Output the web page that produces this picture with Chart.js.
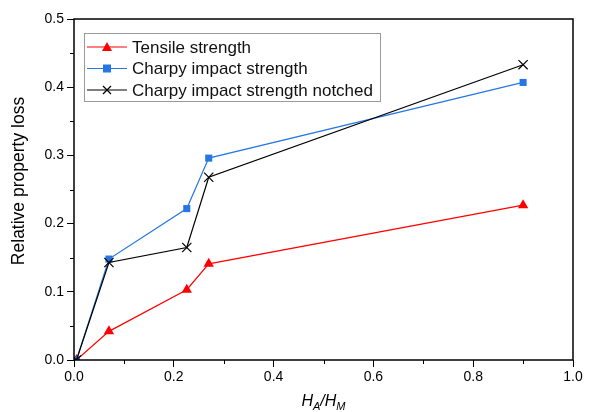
<!DOCTYPE html>
<html><head><meta charset="utf-8">
<script src="https://cdn.jsdelivr.net/npm/chart.js@4/dist/chart.umd.min.js"></script>
<style>html,body{margin:0;padding:0;background:#fff}#wrap{width:590px;height:412px}</style>
</head><body><div id="wrap"><canvas id="c" width="590" height="412"></canvas></div>
<script>
const xValues = [0.005, 0.07, 0.226, 0.27, 0.9];
const tensile = [0, 0.042, 0.103, 0.141, 0.227];
const charpy = [0, 0.148, 0.222, 0.296, 0.407];
const charpyNotched = [0, 0.143, 0.165, 0.268, 0.433];
const seriesNames = ['Tensile strength', 'Charpy impact strength', 'Charpy impact strength notched'];
const xTicks = [0, 0.2, 0.4, 0.6, 0.8, 1.0];
const yTicks = [0, 0.1, 0.2, 0.3, 0.4, 0.5];

const RED = '#ff0000', BLUE = '#2577e3', BLACK = '#000000';
const FONT = '"Liberation Sans", Arial, sans-serif';
const toPts = ys => ys.map((y, i) => ({x: xValues[i], y}));

const extras = {
  id: 'extras',
  afterDraw(chart) {
    const {ctx, chartArea: a, scales: {x, y}} = chart;
    ctx.save();
    // frame
    ctx.strokeStyle = '#000'; ctx.lineWidth = 1.5;
    ctx.strokeRect(a.left, a.top, a.right - a.left, a.bottom - a.top);
    // minor ticks
    ctx.lineWidth = 1;
    ctx.beginPath();
    for (let v = 0.1; v < 1; v += 0.2) { const px = Math.round(x.getPixelForValue(v)) + 0.5; ctx.moveTo(px, a.bottom); ctx.lineTo(px, a.bottom + 4); }
    for (let v = 0.05; v < 0.5; v += 0.1) { const py = Math.round(y.getPixelForValue(v)) + 0.5; ctx.moveTo(a.left, py); ctx.lineTo(a.left - 4, py); }
    ctx.stroke();
    // y title
    ctx.fillStyle = '#000';
    ctx.font = '17.5px ' + FONT;
    ctx.save(); ctx.translate(19, 181); ctx.rotate(-Math.PI / 2);
    ctx.textAlign = 'center'; ctx.textBaseline = 'middle';
    ctx.fillText('Relative property loss', 0, 0); ctx.restore();
    // x title H_A/H_M
    const big = 'italic 16px ' + FONT;
    const small = 'italic 11px ' + FONT;
    const parts = [['H', big, 0], ['A', small, 4], ['/H', big, 0], ['M', small, 4]];
    let total = 0;
    parts.forEach(p => { ctx.font = p[1]; total += ctx.measureText(p[0]).width; });
    let cx = (a.left + a.right) / 2 - total / 2;
    ctx.textAlign = 'left'; ctx.textBaseline = 'alphabetic';
    parts.forEach(p => { ctx.font = p[1]; ctx.fillText(p[0], cx, 406 + p[2]); cx += ctx.measureText(p[0]).width; });
    // legend
    const lx = 84, ly = 33, lw = 296, lh = 68;
    ctx.fillStyle = '#fff'; ctx.fillRect(lx, ly, lw, lh);
    ctx.strokeStyle = '#9a9a9a'; ctx.lineWidth = 1;
    ctx.strokeRect(lx + 0.5, ly + 0.5, lw, lh);
    const rows = [{c: RED, m: 'tri'}, {c: BLUE, m: 'sq'}, {c: BLACK, m: 'x'}];
    ctx.font = '17px ' + FONT;
    ctx.textBaseline = 'middle';
    rows.forEach((r, i) => {
      const yy = ly + 14 + i * 21.5;
      ctx.strokeStyle = r.c; ctx.lineWidth = 1.2;
      ctx.beginPath(); ctx.moveTo(87, yy); ctx.lineTo(127, yy); ctx.stroke();
      ctx.fillStyle = r.c;
      const mx = 107;
      if (r.m === 'tri') { ctx.beginPath(); ctx.moveTo(mx, yy - 5); ctx.lineTo(mx + 5, yy + 4); ctx.lineTo(mx - 5, yy + 4); ctx.closePath(); ctx.fill(); }
      else if (r.m === 'sq') { ctx.fillRect(mx - 4, yy - 4, 8, 8); }
      else { ctx.beginPath(); ctx.moveTo(mx - 4, yy - 4); ctx.lineTo(mx + 4, yy + 4); ctx.moveTo(mx + 4, yy - 4); ctx.lineTo(mx - 4, yy + 4); ctx.stroke(); }
      ctx.fillStyle = '#111';
      ctx.fillText(seriesNames[i], 132, yy + 1);
    });
    ctx.restore();
  }
};

new Chart(document.getElementById('c'), {
  type: 'scatter',
  data: {
    datasets: [
      {label: seriesNames[0], data: toPts(tensile), showLine: true, borderColor: RED, backgroundColor: RED, borderWidth: 1.2, pointStyle: 'triangle', pointRadius: 6, pointBorderWidth: 0, order: 3},
      {label: seriesNames[1], data: toPts(charpy), showLine: true, borderColor: BLUE, backgroundColor: BLUE, borderWidth: 1.2, pointStyle: 'rect', pointRadius: 5, pointBorderWidth: 0, order: 2},
      {label: seriesNames[2], data: toPts(charpyNotched), showLine: true, borderColor: BLACK, backgroundColor: BLACK, borderWidth: 1.2, pointStyle: 'crossRot', pointRadius: 6.5, pointBorderWidth: 1.2, order: 1}
    ]
  },
  options: {
    responsive: false, animation: false, devicePixelRatio: 1,
    layout: {padding: {top: 19, right: 17, left: 0, bottom: 0}},
    plugins: {legend: {display: false}, tooltip: {enabled: false}},
    scales: {
      x: {
        type: 'linear', min: 0, max: 1,
        afterBuildTicks: s => { s.ticks = xTicks.map(v => ({value: v})); },
        afterFit: s => { s.height = 52; },
        ticks: {color: '#000', font: {size: 14, family: FONT}, padding: 2, maxRotation: 0, callback: v => v.toFixed(1)},
        grid: {display: true, drawOnChartArea: false, tickLength: 7, tickColor: '#000', tickWidth: 1},
        border: {display: false}
      },
      y: {
        type: 'linear', min: 0, max: 0.5,
        afterBuildTicks: s => { s.ticks = yTicks.map(v => ({value: v})); },
        afterFit: s => { s.width = 74; },
        ticks: {color: '#000', font: {size: 14, family: FONT}, padding: 3, callback: v => v.toFixed(1)},
        grid: {display: true, drawOnChartArea: false, tickLength: 7, tickColor: '#000', tickWidth: 1},
        border: {display: false}
      }
    }
  },
  plugins: [extras]
});
</script>
</body></html>
